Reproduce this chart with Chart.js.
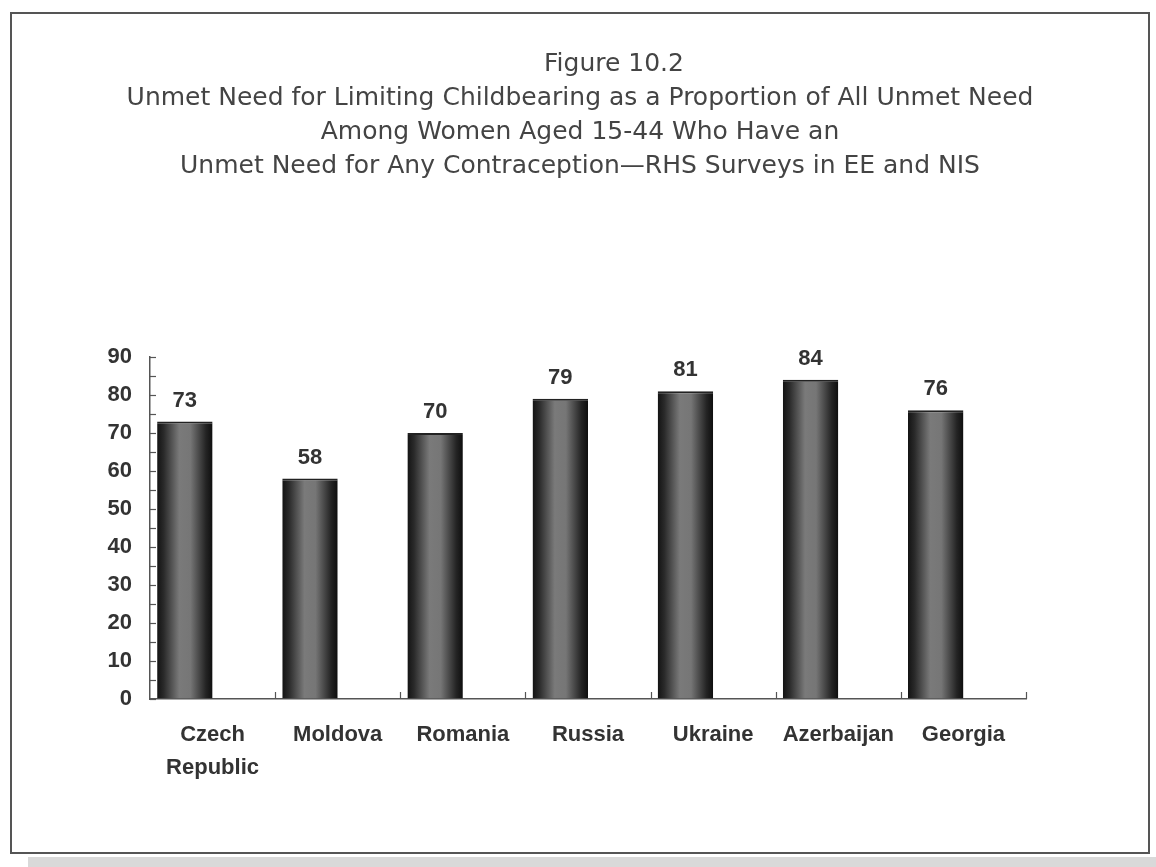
<!DOCTYPE html>
<html>
<head>
<meta charset="utf-8">
<script src="https://cdn.jsdelivr.net/npm/chart.js@4/dist/chart.umd.min.js"></script>
<style>
    body { margin: 0; background: #fff; width: 1156px; height: 867px; position: relative; overflow: hidden; }
    #frame { position: absolute; left: 10px; top: 12px; width: 1136px; height: 838px; border: 2px solid #555; background: #fff; }
    #strip { position: absolute; left: 28px; top: 857px; width: 1128px; height: 10px; background: #d9d9d9; }
    canvas { display: block; }
</style>
</head>
<body>
<div id="frame"><canvas id="chart" width="1136" height="838"></canvas></div>
<div id="strip"></div>
<script>
document.addEventListener('DOMContentLoaded', function () {
    const countries = [['Czech', 'Republic'], 'Moldova', 'Romania', 'Russia', 'Ukraine', 'Azerbaijan', 'Georgia'];
    const limitingShare = [73, 58, 70, 79, 81, 84, 76];
    const emptySlot = [null, null, null, null, null, null, null];
    const yTicks = [0, 10, 20, 30, 40, 50, 60, 70, 80, 90];

    const titleLines = [
        'Figure 10.2',
        'Unmet Need for Limiting Childbearing as a Proportion of All Unmet Need',
        'Among Women Aged 15-44 Who Have an',
        'Unmet Need for Any Contraception\u2014RHS Surveys in EE and NIS'
    ];

    const labelFont = '"Liberation Sans", Arial, sans-serif';
    const ctx = document.getElementById('chart').getContext('2d');

    // cylinder-like shading across each bar
    function barFill(context) {
        const chart = context.chart;
        const meta = chart.getDatasetMeta(context.datasetIndex);
        const el = meta.data[context.dataIndex];
        if (!el || !el.width) return '#555';
        const x0 = el.x - el.width / 2;
        const g = chart.ctx.createLinearGradient(x0, 0, x0 + el.width, 0);
        g.addColorStop(0, '#131313');
        g.addColorStop(0.12, '#2a2a2a');
        g.addColorStop(0.4, '#7a7a7a');
        g.addColorStop(0.6, '#767676');
        g.addColorStop(0.88, '#242424');
        g.addColorStop(1, '#0e0e0e');
        return g;
    }

    // title centred on the whole frame, inward ticks, value labels
    const decorPlugin = {
        id: 'decor',
        afterDraw(chart) {
            const c = chart.ctx;
            const x = chart.scales.x;
            const y = chart.scales.y;
            c.save();

            c.fillStyle = '#444';
            c.font = '25px "DejaVu Sans", Verdana, sans-serif';
            c.textAlign = 'center';
            c.textBaseline = 'middle';
            titleLines.forEach(function (line, i) {
                // the figure number sits a little right of centre in the original
                const cx = chart.width / 2 + (i === 0 ? 34 : 0);
                c.fillText(line, cx, 50 + i * 34.3);
            });

            c.strokeStyle = '#555';
            c.lineWidth = 1.2;
            y.ticks.forEach(function (t) {
                const py = Math.round(y.getPixelForValue(t.value)) + 0.5;
                c.beginPath();
                c.moveTo(x.left, py);
                c.lineTo(x.left + 6, py);
                c.stroke();
            });
            const n = countries.length;
            for (let i = 1; i <= n; i++) {
                const px = Math.round(x.left + (x.right - x.left) * i / n) + 0.5;
                c.beginPath();
                c.moveTo(px, y.bottom);
                c.lineTo(px, y.bottom - 7);
                c.stroke();
            }

            c.fillStyle = '#333';
            c.font = 'bold 22px ' + labelFont;
            c.textBaseline = 'bottom';
            chart.getDatasetMeta(0).data.forEach(function (el, i) {
                c.fillText(String(limitingShare[i]), el.x, el.y - 10);
            });
            c.restore();
        }
    };

    const chart = new Chart(ctx, {
        type: 'bar',
        data: {
            labels: countries,
            datasets: [{
                label: 'Limiting',
                data: limitingShare,
                backgroundColor: barFill,
                borderColor: '#222',
                borderWidth: { top: 2, left: 0, right: 0, bottom: 0 },
                categoryPercentage: 0.886,
                barPercentage: 1.0
            }, {
                label: '',
                data: emptySlot,
                categoryPercentage: 0.886,
                barPercentage: 1.0
            }]
        },
        options: {
            responsive: false,
            animation: false,
            layout: { padding: { left: 0, right: 122, top: 343, bottom: 49 } },
            plugins: {
                legend: { display: false },
                tooltip: { enabled: false },
                title: { display: false }
            },
            scales: {
                y: {
                    min: 0,
                    max: 90,
                    afterFit: function (scale) { scale.width = 138; },
                    ticks: {
                        stepSize: 5,
                        autoSkip: false,
                        padding: 18,
                        color: '#333',
                        font: { family: labelFont, size: 22, weight: 'bold' },
                        callback: function (v) { return yTicks.includes(v) ? String(v) : ''; }
                    },
                    grid: { drawOnChartArea: false, drawTicks: false },
                    border: { display: true, color: '#555', width: 1.5 }
                },
                x: {
                    ticks: {
                        padding: 19,
                        color: '#333',
                        font: { family: labelFont, size: 22, weight: 'bold', lineHeight: 1.5 }
                    },
                    grid: { display: false, drawTicks: false },
                    border: { display: true, color: '#555', width: 1.5 }
                }
            }
        },
        plugins: [decorPlugin]
    });

    // second pass so the gradient can use the laid-out bar geometry
    chart.update();
});
</script>
</body>
</html>
